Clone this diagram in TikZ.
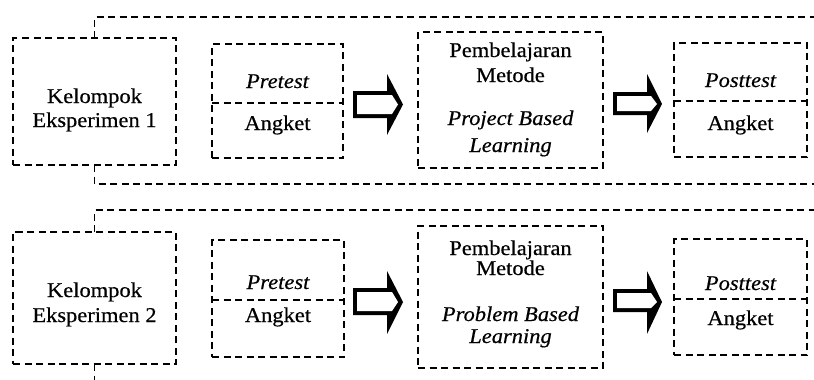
\documentclass[tikz,border=0pt]{standalone}
\usepackage{fontspec}
\setmainfont{Liberation Serif}[FakeStretch=1.07,FakeBold=0.5]
\begin{document}
\begin{tikzpicture}[x=1pt,y=-1pt,
  dl/.style={line width=1.5pt, dash pattern=on 7pt off 4.5pt},
  box/.style={draw, dl, inner sep=0pt, outer sep=0pt},
  txt/.style={anchor=base, inner sep=0pt, font=\fontsize{21}{24}\selectfont},
  itxt/.style={txt, font=\fontsize{21}{24}\selectfont\itshape},
  arrowout/.style={fill=black},
  arrowin/.style={fill=white}]
\useasboundingbox (0,0) rectangle (814,380);

% ---------- group 1 ----------
\node[box, minimum width=163pt, minimum height=127pt] (k1) at (94.5,101.5) {};
\node[txt] (k1a) at (94.5,103) {Kelompok};
\node[txt] (k1b) at (94.5,127) {Eksperimen 1};

\node[box, minimum width=131pt, minimum height=114pt] (pre1) at (277.5,101) {};
\coordinate (d1) at (0,103);
\draw[dl] (pre1.west |- d1) -- (pre1.east |- d1);
\node[itxt] (pre1a) at (277.5,88) {Pretest};
\node[txt] (pre1b) at (277.5,130) {Angket};

\node[box, minimum width=185pt, minimum height=136pt] (pb1) at (510.5,100) {};
\node[txt] (pb1a) at (510.5,57) {Pembelajaran};
\node[txt] (pb1b) at (510.5,82) {Metode};
\node[itxt] (pb1c) at (510.5,125) {Project Based};
\node[itxt] (pb1d) at (510.5,152) {Learning};

\node[box, minimum width=133pt, minimum height=114pt] (post1) at (740.5,100) {};
\coordinate (d2) at (0,101);
\draw[dl] (post1.west |- d2) -- (post1.east |- d2);
\node[itxt] (post1a) at (740.5,87) {Posttest};
\node[txt] (post1b) at (740.5,130) {Angket};

\coordinate (t1) at (814,17);
\coordinate (b1) at (814,184);
\draw[dl] (k1.north) -- (k1.north |- t1) -- (t1);
\draw[dl] (k1.south) -- (k1.south |- b1) -- (b1);

% block arrows, group 1
\fill[arrowout] (353,91) -- (387,91) -- (387,74) -- (403,104.5) -- (387,135) -- (387,118) -- (353,118) -- cycle;
\fill[arrowin] (357,95) -- (392,95) -- (398,104.5) -- (392,114) -- (357,114) -- cycle;
\fill[arrowout] (613,92) -- (647,92) -- (647,74) -- (662,104) -- (647,133) -- (647,115) -- (613,115) -- cycle;
\fill[arrowin] (617,96) -- (651,96) -- (657,104) -- (651,111) -- (617,111) -- cycle;

% ---------- group 2 ----------
\node[box, minimum width=163pt, minimum height=132pt] (k2) at (94.5,298) {};
\node[txt] (k2a) at (94.5,297) {Kelompok};
\node[txt] (k2b) at (94.5,322) {Eksperimen 2};

\node[box, minimum width=132pt, minimum height=117pt] (pre2) at (278,298.5) {};
\coordinate (d3) at (0,300);
\draw[dl] (pre2.west |- d3) -- (pre2.east |- d3);
\node[itxt] (pre2a) at (278,289) {Pretest};
\node[txt] (pre2b) at (278,322) {Angket};

\node[box, minimum width=185pt, minimum height=142pt] (pb2) at (510.5,297) {};
\node[txt] (pb2a) at (510.5,255) {Pembelajaran};
\node[txt] (pb2b) at (510.5,275) {Metode};
\node[itxt] (pb2c) at (510.5,321) {Problem Based};
\node[itxt] (pb2d) at (510.5,343) {Learning};

\node[box, minimum width=133pt, minimum height=116pt] (post2) at (740.5,297) {};
\coordinate (d4) at (0,299);
\draw[dl] (post2.west |- d4) -- (post2.east |- d4);
\node[itxt] (post2a) at (740.5,290) {Posttest};
\node[txt] (post2b) at (740.5,325) {Angket};

\coordinate (t2) at (814,210);
\coordinate (b2) at (94.5,380);
\draw[dl] (k2.north) -- (k2.north |- t2) -- (t2);
\draw[dl] (k2.south) -- (b2);

% block arrows, group 2
\fill[arrowout] (353,288) -- (387,288) -- (387,271) -- (403,302) -- (387,334) -- (387,315) -- (353,315) -- cycle;
\fill[arrowin] (357,292) -- (392,292) -- (398,302) -- (392,311) -- (357,311) -- cycle;
\fill[arrowout] (613,289) -- (647,289) -- (647,271) -- (662,302) -- (647,334) -- (647,312) -- (613,312) -- cycle;
\fill[arrowin] (617,293) -- (651,293) -- (657,302) -- (651,308) -- (617,308) -- cycle;
\end{tikzpicture}
\end{document}
